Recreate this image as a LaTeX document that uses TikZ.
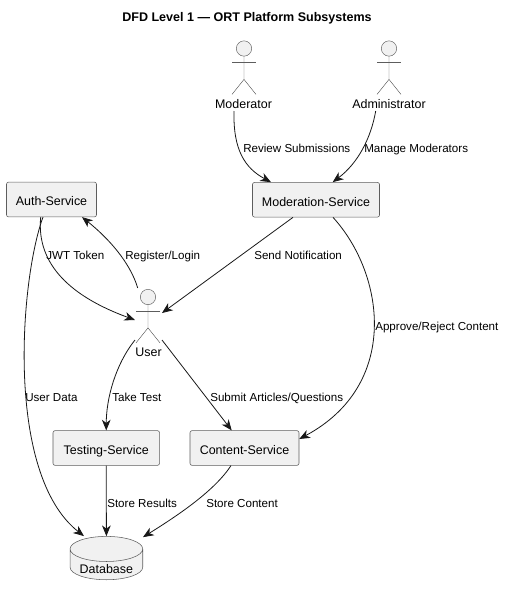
\documentclass[tikz,border=0pt]{standalone}
\usepackage{fontspec}
\setmainfont{Liberation Sans}
\usetikzlibrary{shapes.geometric, arrows.meta}
\definecolor{boxfill}{HTML}{F1F1F1}
\definecolor{boxline}{HTML}{181818}
\tikzstyle{process} = [rectangle, rounded corners=1.5pt, minimum height=26pt, inner sep=0pt, text height=9.6pt, text depth=0pt, text centered, draw=boxline!70, fill=boxfill, line width=0.4pt, font=\fontsize{9.35pt}{12pt}\selectfont]
\tikzstyle{datastore} = [cylinder, shape border rotate=90, aspect=0.47, minimum width=54.5pt, minimum height=32.5pt, inner sep=0pt, draw=boxline!70, fill=boxfill, line width=0.4pt, font=\fontsize{9.35pt}{12pt}\selectfont]
\tikzstyle{head} = [circle, minimum size=11.5pt, inner sep=0pt, draw=boxline!70, fill=boxfill, line width=0.35pt]
\tikzstyle{limb} = [draw=boxline!70, line width=0.35pt]
\tikzstyle{actorname} = [inner sep=0pt, text height=7pt, text depth=0.5pt, font=\fontsize{9.35pt}{12pt}\selectfont]
\tikzstyle{flowlabel} = [anchor=west, inner sep=0pt, text height=6.5pt, text depth=0pt, font=\fontsize{8.7pt}{10pt}\selectfont]
\tikzstyle{arrow} = [line width=0.6pt, draw=boxline, -{Stealth[length=8pt, width=6.5pt, inset=2.4pt]}]

\begin{document}
\begin{tikzpicture}[x=0.75pt, y=-0.75pt]
\useasboundingbox (0,0) rectangle (505,594);

\node (Title) [inner sep=0pt, font=\fontsize{9.4pt}{12pt}\selectfont\bfseries] at (247,18) {DFD Level 1 --- ORT Platform Subsystems};

% actors
\foreach \who/\px/\py in {ModeratorHead/244/48.5, AdministratorHead/389/48.5, UserHead/148/297}{
  \node (\who) [head] at (\px,\py) {};
  \draw [limb] (\who.south) -- ++(0,23) -- ++(-12,15) ++(12,-15) -- ++(12,15);
  \draw [limb] ([shift={(-12,14)}]\who.center) -- ++(24,0);
}
\node (Moderator) [actorname] at (243.5,104) {Moderator};
\node (Administrator) [actorname] at (389,104) {Administrator};
\node (User) [actorname] at (148.5,352) {User};

% services
\node (AuthService) [process, minimum width=67.5pt] at (51.5,199.5) {Auth-Service};
\node (ModerationService) [process, minimum width=95.25pt] at (316,199.75) {Moderation-Service};
\node (TestingService) [process, minimum width=79.9pt] at (106.25,448) {Testing-Service};
\node (ContentService) [process, minimum width=81.75pt] at (244.5,448) {Content-Service};
\node (Database) [datastore, anchor=south] at (106.4,580) {\smash{\raisebox{-7pt}{Database}}};

% labels
\node (ReviewLabel) [flowlabel] at (243,148) {Review Submissions};
\node (ManageLabel) [flowlabel] at (364,148) {Manage Moderators};
\node (JwtLabel) [flowlabel] at (46,255) {JWT Token};
\node (RegisterLabel) [flowlabel] at (125,255) {Register/Login};
\node (NotifyLabel) [flowlabel] at (254,255) {Send Notification};
\node (ApproveLabel) [flowlabel] at (375,326) {Approve/Reject Content};
\node (UserDataLabel) [flowlabel] at (25,397) {User Data};
\node (TakeTestLabel) [flowlabel] at (112,397) {Take Test};
\node (SubmitLabel) [flowlabel] at (210,397) {Submit Articles/Questions};
\node (ResultsLabel) [flowlabel] at (107,503) {Store Results};
\node (StoreLabel) [flowlabel] at (206,503) {Store Content};

\draw [arrow] ([shift={(-9.5,7)}]Moderator.center) .. controls +(-1,39) and +(-26,-14) .. ([shift={(-45,0)}]ModerationService.north);
\draw [arrow] ([shift={(-13.3,7)}]Administrator.center) .. controls +(-4.7,27) and +(25.3,-19) .. ([shift={(16.7,0)}]ModerationService.north);
\draw [arrow] ([shift={(-23,0)}]ModerationService.south) -- ([shift={(14,16)}]UserHead.center);
\draw [arrow] ([shift={(17,0)}]ModerationService.south) .. controls +(52,57) and +(101,-54) .. ([shift={(0,-9)}]ContentService.east);
\draw [arrow] ([shift={(-10.8,0)}]AuthService.south) .. controls +(-4.7,48) and +(-63,-23) .. ([shift={(-13,23)}]UserHead.center);
\draw [arrow] ([shift={(-10.3,-9)}]UserHead.center) .. controls +(-7.7,-26) and +(26,20.7) .. ([shift={(30.5,0)}]AuthService.south);
\draw [arrow] ([shift={(-8.5,0)}]AuthService.south) .. controls +(-23,63) and +(-79,-62) .. ([shift={(-22.4,0)}]Database.north);
\draw [arrow] ([shift={(-13,43)}]UserHead.center) .. controls +(-20,25) and +(0,-31) .. (TestingService.north);
\draw [arrow] ([shift={(14,43)}]UserHead.center) -- ([shift={(-12.8,0)}]ContentService.north);
\draw [arrow] (TestingService.south) -- (Database.north);
\draw [arrow] ([shift={(-13.5,0)}]ContentService.south) .. controls +(-16,24.5) and +(37,-23) .. ([shift={(36.6,1)}]Database.north);
\end{tikzpicture}
\end{document}
